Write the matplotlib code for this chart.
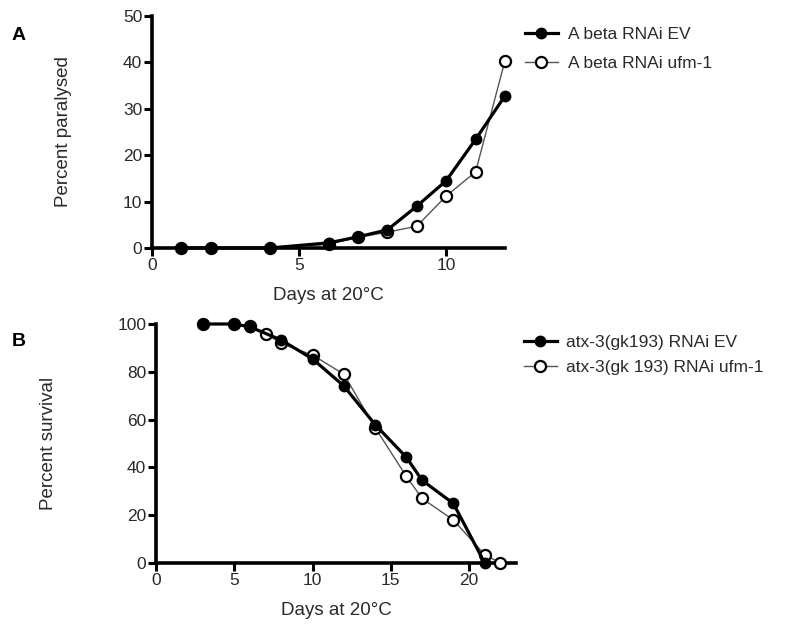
import matplotlib
matplotlib.use("Agg")
import matplotlib.pyplot as plt
from matplotlib.lines import Line2D

plt.rcParams['font.family'] = ['Liberation Sans', 'DejaVu Sans']

# Panel A data
a_days_ev = [1, 2, 4, 6, 7, 8, 9, 10, 11, 12]
a_ev = [0, 0, 0, 1.1, 2.4, 3.9, 9.0, 14.5, 23.4, 32.8]
a_days_ufm = [1, 2, 4, 6, 7, 8, 9, 10, 11, 12]
a_ufm = [0, 0, 0, 0.8, 2.3, 3.4, 4.7, 11.2, 16.4, 40.4]
a_labels = ["A beta RNAi EV", "A beta RNAi ufm-1"]

# Panel B data
b_days_ev = [3, 5, 6, 8, 10, 12, 14, 16, 17, 19, 21]
b_ev = [100, 100, 98.8, 93.3, 85.4, 74.1, 57.9, 44.2, 34.6, 24.9, 0]
b_days_ufm = [3, 5, 6, 7, 8, 10, 12, 14, 16, 17, 19, 21, 22]
b_ufm = [100, 100, 99, 96, 91.9, 87, 79, 56.6, 36.2, 27, 18, 3.5, 0]
b_labels = ["atx-3(gk193) RNAi EV", "atx-3(gk 193) RNAi ufm-1"]

W, H = 789, 625
fig = plt.figure(figsize=(W / 100, H / 100), dpi=100)
TXT = '#2a2a2a'

def style(ax, xmax, ymax, xt, yt):
    ax.set_xlim(0, xmax)
    ax.set_ylim(0, ymax)
    for s in ['top', 'right']:
        ax.spines[s].set_visible(False)
    for s in ['left', 'bottom']:
        ax.spines[s].set_linewidth(2.6)
        ax.spines[s].set_color('black')
    ax.set_xticks(xt)
    ax.set_yticks(yt)
    ax.tick_params(direction='out', length=5.5, width=2.2, labelsize=12.5,
                   colors='black', labelcolor=TXT, pad=1.5)

def plot_pair(ax, dx1, y1, dx2, y2):
    ax.plot(dx2, y2, color='#555555', lw=1.0, marker='o', ms=8,
            mfc='white', mec='black', mew=1.6, zorder=3, clip_on=False)
    ax.plot(dx1, y1, color='black', lw=2.3, marker='o', ms=7.5,
            mfc='black', mec='black', zorder=4, clip_on=False)

# Panel A
axA = fig.add_axes([152 / W, 1 - 248 / H, (505 - 152) / W, (248 - 16) / H])
plot_pair(axA, a_days_ev, a_ev, a_days_ufm, a_ufm)
style(axA, 12, 50, [0, 5, 10], [0, 10, 20, 30, 40, 50])
axA.set_xlabel("Days at 20°C", fontsize=13.5, color=TXT, labelpad=10)
axA.set_ylabel("Percent paralysed", fontsize=13.5, color=TXT)
axA.yaxis.set_label_coords((72 - 152) / 353, 0.5)

# Panel B
axB = fig.add_axes([156 / W, 1 - 563 / H, (516 - 156) / W, (563 - 324) / H])
plot_pair(axB, b_days_ev, b_ev, b_days_ufm, b_ufm)
style(axB, 23, 100, [0, 5, 10, 15, 20], [0, 20, 40, 60, 80, 100])
axB.set_xlabel("Days at 20°C", fontsize=13.5, color=TXT, labelpad=10)
axB.set_ylabel("Percent survival", fontsize=13.5, color=TXT)
axB.yaxis.set_label_coords((57 - 156) / 360, 0.5)

def handles():
    h1 = Line2D([], [], color='black', lw=2.3, marker='o', ms=7.5, mfc='black', mec='black')
    h2 = Line2D([], [], color='#555555', lw=1.0, marker='o', ms=8, mfc='white', mec='black', mew=1.6)
    return [h1, h2]

fig.legend(handles(), a_labels, loc='upper left', bbox_to_anchor=(518 / W, 1 - 20 / H),
           frameon=False, fontsize=12.5, handlelength=1.9, handletextpad=0.6,
           labelspacing=0.8, labelcolor=TXT, borderaxespad=0)

fig.legend(handles(), b_labels, loc='upper left', bbox_to_anchor=(517 / W, 1 - 328 / H),
           frameon=False, handlelength=1.9, handletextpad=0.5,
           labelspacing=0.55, labelcolor=TXT, borderaxespad=0,
           prop={'family': ['Liberation Sans Narrow', 'Liberation Sans'], 'size': 12.5})

fig.text(12 / W, 1 - 35 / H, "A", fontsize=14, fontweight='bold', va='center', ha='left')
fig.text(12 / W, 1 - 341 / H, "B", fontsize=14, fontweight='bold', va='center', ha='left')

fig.savefig("out.png", dpi=100)
